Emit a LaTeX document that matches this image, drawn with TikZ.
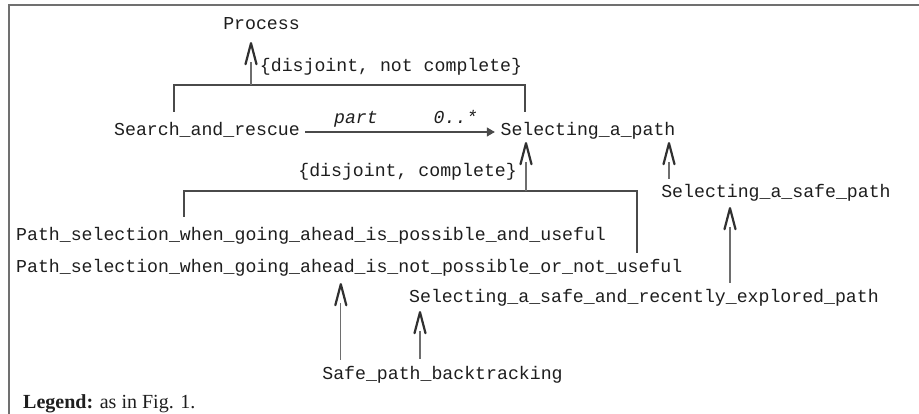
\documentclass[tikz,border=0pt]{standalone}
\usepackage{fontspec}
\setmainfont{Liberation Serif}
\setmonofont{Liberation Mono}
\usetikzlibrary{arrows.meta,calc}
\definecolor{txt}{HTML}{1E1E1E}
\definecolor{treec}{HTML}{4A4A4A}
\definecolor{stemc}{HTML}{6E6E6E}
\definecolor{headc}{HTML}{303030}
\definecolor{framec}{HTML}{707070}
\tikzset{
  lbl/.style={inner sep=0pt, text height=12pt, text depth=4pt, anchor=base,
    font=\ttfamily\fontsize{18.2pt}{20pt}\selectfont, text=txt},
  ilbl/.style={lbl, font=\ttfamily\itshape\fontsize{18.2pt}{20pt}\selectfont},
  legendtext/.style={inner sep=0pt, anchor=base west, text=txt,
    font=\rmfamily\fontsize{20pt}{24pt}\selectfont},
  tree/.style={draw=treec, line width=1.2pt},
  stem/.style={draw=stemc, line width=1.2pt},
  assoc/.style={draw=treec, line width=1.2pt, -{Triangle[length=8pt,width=9pt]},
    shorten <=5.2pt, shorten >=5.6pt},
  frameline/.style={draw=framec, line width=1.5pt},
  vhead/.pic={\draw[draw=headc, line width=2.2pt, line join=round, line cap=round]
    (-5.5,21) -- (0,0) -- (5.5,21);}
}
\begin{document}
\begin{tikzpicture}[x=1pt,y=-1pt]
\useasboundingbox (0,0) rectangle (919,414);
\fill[white] (0,0) rectangle (919,414);
\draw[frameline] (9,414) -- (9,5) -- (919,5);

% nodes
\node[lbl] (proc) at (261.5,30) {Process};
\node[lbl] (nc) at (391,72) {\{disjoint, not complete\}};
\node[lbl] (sar) at (207,136) {Search\_and\_rescue};
\node[lbl] (sap) at (588,136) {Selecting\_a\_path};
\node[ilbl] (lpart) at (356,124) {part};
\node[ilbl] (lmult) at (455.5,124) {0..*};
\node[lbl, anchor=base east] (dc) at (517,177) {\{disjoint, complete\}};
\node[lbl, anchor=base west] (ps1) at (16,241) {Path\_selection\_when\_going\_ahead\_is\_possible\_and\_useful};
\node[lbl, anchor=base west] (ps2) at (16,273) {Path\_selection\_when\_going\_ahead\_is\_not\_possible\_or\_not\_useful};
\node[lbl] (ssp) at (776,198) {Selecting\_a\_safe\_path};
\node[lbl] (srep) at (644,303) {Selecting\_a\_safe\_and\_recently\_explored\_path};
\node[lbl] (spb) at (442.5,379) {Safe\_path\_backtracking};
\node[legendtext] (leg) at (23,408) {\textbf{Legend:} as in Fig. 1.};

% arrowhead apexes and junctions
\coordinate (v1) at ([xshift=-10.5pt,yshift=-9pt]proc.south);
\coordinate (v2) at ([xshift=-62pt,yshift=-3pt]sap.south);
\coordinate (v3) at ([xshift=81pt,yshift=-3pt]sap.south);
\coordinate (v4) at ([xshift=-46pt,yshift=-6pt]ssp.south);
\coordinate (v5) at ([xshift=-8.5pt,yshift=-7pt]ps2.south);
\coordinate (v6) at ([xshift=-224pt,yshift=-5pt]srep.south);
\coordinate (h1l) at (174,85);
\coordinate (h1r) at (525,85);
\coordinate (h2l) at (184,191);
\coordinate (h2r) at (637,191);

% generalization set 1 -> Process
\draw[tree] ([yshift=12pt]sar.north -| h1l) -- (h1l) -- (h1r) -- ([yshift=12pt]sap.north -| h1r);
\draw[stem] (v1 |- h1l) -- ([yshift=-19pt]v1);
\pic at (v1) {vhead};

% association
\draw[assoc] (sar.east) -- (sap.west);

% generalization set 2 -> Selecting_a_path
\draw[tree] ([yshift=12pt]ps1.north -| h2l) -- (h2l) -- (h2r) -- ([yshift=8pt]ps2.north -| h2r);
\draw[stem] (v2 |- h2l) -- ([yshift=-19pt]v2);
\pic at (v2) {vhead};

% Selecting_a_safe_path -> Selecting_a_path
\draw[stem] ([yshift=7pt]ssp.north -| v3) -- ([yshift=-19pt]v3);
\pic at (v3) {vhead};

% recent -> Selecting_a_safe_path
\draw[stem] ([yshift=8pt]srep.north -| v4) -- ([yshift=-19pt]v4);
\pic at (v4) {vhead};

% Safe_path_backtracking -> ps2
\draw[stem] ([yshift=7pt]spb.north -| v5) -- ([yshift=-19pt]v5);
\pic at (v5) {vhead};

% Safe_path_backtracking -> recent
\draw[stem] ([yshift=8pt]spb.north -| v6) -- ([yshift=-19pt]v6);
\pic at (v6) {vhead};
\end{tikzpicture}
\end{document}
